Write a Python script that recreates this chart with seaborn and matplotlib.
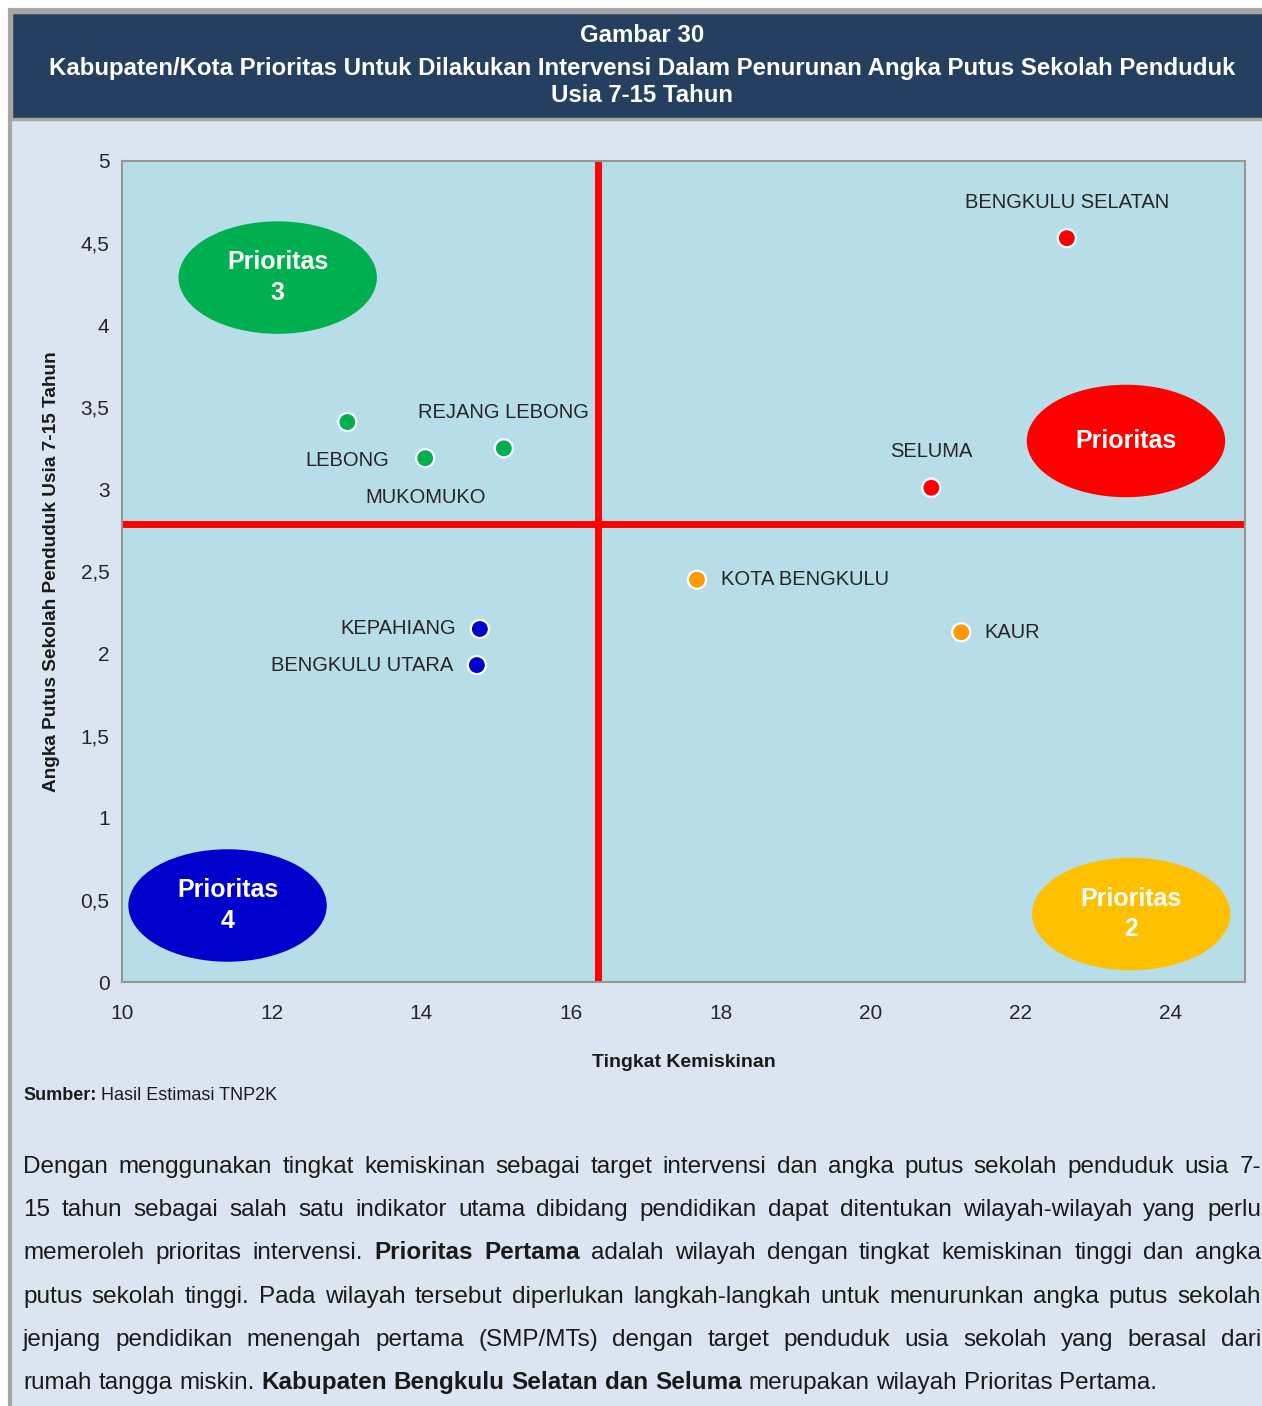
import matplotlib
matplotlib.use("Agg")
import matplotlib.pyplot as plt
from matplotlib.patches import Ellipse, Rectangle
import seaborn as sns
import pandas as pd

# data
kabupaten = ["BENGKULU SELATAN", "SELUMA", "KOTA BENGKULU", "KAUR",
             "KEPAHIANG", "BENGKULU UTARA", "REJANG LEBONG", "LEBONG", "MUKOMUKO"]
kemiskinan = [22.62, 20.81, 17.68, 21.21, 14.78, 14.74, 15.10, 13.01, 14.05]
putus_sekolah = [4.53, 3.01, 2.45, 2.13, 2.15, 1.93, 3.25, 3.41, 3.19]
prioritas = ["1", "1", "2", "2", "4", "4", "3", "3", "3"]
label_side = ["top", "top", "right", "right", "left", "left", "top", "bottom", "bottom"]

batas_x = 16.36
batas_y = 2.79

x_ticks = [10, 12, 14, 16, 18, 20, 22, 24]
y_ticks = [0, 0.5, 1, 1.5, 2, 2.5, 3, 3.5, 4, 4.5, 5]
y_tick_labels = ["0", "0,5", "1", "1,5", "2", "2,5", "3", "3,5", "4", "4,5", "5"]

colors = {"1": "#FF0000", "2": "#FF9900", "3": "#00B050", "4": "#0000CC"}
bubbles = [
    # text, x, y, color
    ("Prioritas\n3", 12.08, 4.29, "#00B050"),
    ("Prioritas", 23.41, 3.295, "#FF0000"),
    ("Prioritas\n4", 11.41, 0.466, "#0000CC"),
    ("Prioritas\n2", 23.48, 0.414, "#FFC000"),
]

BG = "#DBE5F1"
NAVY = "#243F60"
FONT = ["Liberation Sans", "DejaVu Sans"]
W, H = 1262, 1406

df = pd.DataFrame({"kab": kabupaten, "x": kemiskinan, "y": putus_sekolah,
                   "prioritas": prioritas, "side": label_side})

sns.set_style("white")
plt.rcParams["font.family"] = FONT

fig = plt.figure(figsize=(12.62, 14.06), dpi=100)
fig.patch.set_facecolor("white")

# panel, frame and title banner (behind the axes)
fig.add_artist(Rectangle((10 / W, -0.01), 1.1, 1.01 - 10 / H, transform=fig.transFigure,
                         facecolor=BG, edgecolor="#A6A6A6", linewidth=3, zorder=-2))
fig.add_artist(Rectangle((11 / W, 1 - 119 / H), 1.1, 107 / H, transform=fig.transFigure,
                         facecolor=NAVY, edgecolor="#A6A6A6", linewidth=2.5, zorder=-1))
title_kw = dict(ha="center", va="center", color="white", fontsize=17.3,
                fontweight="bold", family=FONT)
fig.text(0.509, 1 - 35 / H, "Gambar 30", **title_kw)
fig.text(0.509, 1 - 68 / H,
         "Kabupaten/Kota Prioritas Untuk Dilakukan Intervensi Dalam Penurunan Angka Putus Sekolah Penduduk",
         **title_kw)
fig.text(0.509, 1 - 96 / H, "Usia 7-15 Tahun", **title_kw)

ax = fig.add_axes([122 / W, 1 - 982 / H, (1245 - 122) / W, (982 - 161) / H])
ax.set_facecolor("#B7DDE8")

ax.axvline(batas_x, color="#FF0000", linewidth=5, zorder=2)
ax.axhline(batas_y, color="#FF0000", linewidth=5, zorder=2)

for text, cx, cy, col in bubbles:
    ax.add_patch(Ellipse((cx, cy), 2.65, 0.685, facecolor=col, edgecolor="none", zorder=3))
    ax.text(cx, cy, text, ha="center", va="center", color="white", fontsize=18,
            fontweight="bold", linespacing=1.35, zorder=4)

sns.scatterplot(data=df, x="x", y="y", hue="prioritas", palette=colors, s=170,
                edgecolor="white", linewidth=1.6, legend=False, ax=ax, zorder=5)

offsets = {"top": ((0, 26), "center"), "bottom": ((0, -28), "center"),
           "right": ((17, 0), "left"), "left": ((-17, 0), "right")}
for _, r in df.iterrows():
    off, ha = offsets[r["side"]]
    ax.annotate(r["kab"], (r["x"], r["y"]), xytext=off, textcoords="offset points",
                ha=ha, va="center", fontsize=14.5, color="#262626", zorder=6)

ax.set_xlim(10, 25)
ax.set_ylim(0, 5)
ax.set_xticks(x_ticks)
ax.set_yticks(y_ticks)
ax.set_yticklabels(y_tick_labels)
ax.tick_params(axis="both", direction="out", length=6, width=1.5, color="#969696",
               labelsize=15, labelcolor="#262626", pad=3)
ax.tick_params(axis="x", pad=10)
for s in ax.spines.values():
    s.set_visible(True)
    s.set_color("#969696")
    s.set_linewidth(1.5)

ax.set_xlabel("Tingkat Kemiskinan", fontsize=14, fontweight="bold",
              color="#1a1a1a", labelpad=22)
ax.set_ylabel("Angka Putus Sekolah Penduduk Usia 7-15 Tahun", fontsize=13.7,
              fontweight="bold", color="#1a1a1a", labelpad=15)

# source line
fig.text(23 / W, 1 - 1096 / H, "Sumber:", ha="left", va="center", fontsize=13,
         fontweight="bold", color="#1a1a1a")
fig.text(101 / W, 1 - 1096 / H, "Hasil Estimasi TNP2K", ha="left", va="center",
         fontsize=13, color="#1a1a1a")

# paragraph, justified word by word
para = [
    [("Dengan menggunakan tingkat kemiskinan sebagai target intervensi dan angka putus sekolah penduduk usia 7-", False)],
    [("15 tahun sebagai salah satu indikator utama dibidang pendidikan dapat ditentukan wilayah-wilayah yang perlu", False)],
    [("memeroleh prioritas intervensi.", False), ("Prioritas Pertama", True),
     ("adalah wilayah dengan tingkat kemiskinan tinggi dan angka", False)],
    [("putus sekolah tinggi. Pada wilayah tersebut diperlukan langkah-langkah untuk menurunkan angka putus sekolah", False)],
    [("jenjang pendidikan menengah pertama (SMP/MTs) dengan target penduduk usia sekolah yang berasal dari", False)],
    [("rumah tangga miskin.", False), ("Kabupaten Bengkulu Selatan dan Seluma", True),
     ("merupakan wilayah Prioritas Pertama.", False)],
]
baseline_y = [1173, 1216, 1259, 1303, 1346, 1389]
x0, x1 = 23, 1261
renderer = fig.canvas.get_renderer()
for i, (segs, yy) in enumerate(zip(para, baseline_y)):
    words = []
    for txt, bold in segs:
        words += [(w, bold) for w in txt.split()]
    arts = [fig.text(0, 1 - yy / H, w, ha="left", va="baseline", fontsize=17.5,
                     fontweight="bold" if b else "normal", color="#1a1a1a")
            for w, b in words]
    widths = [a.get_window_extent(renderer).width for a in arts]
    if i < len(para) - 1:
        gap = (x1 - x0 - sum(widths)) / (len(words) - 1)
    else:
        gap = 17.5 * 1.389 * 0.28
    x = x0
    for a, w in zip(arts, widths):
        a.set_x(x / W)
        x += w + gap

fig.savefig("out.png", dpi=100, facecolor="white")
